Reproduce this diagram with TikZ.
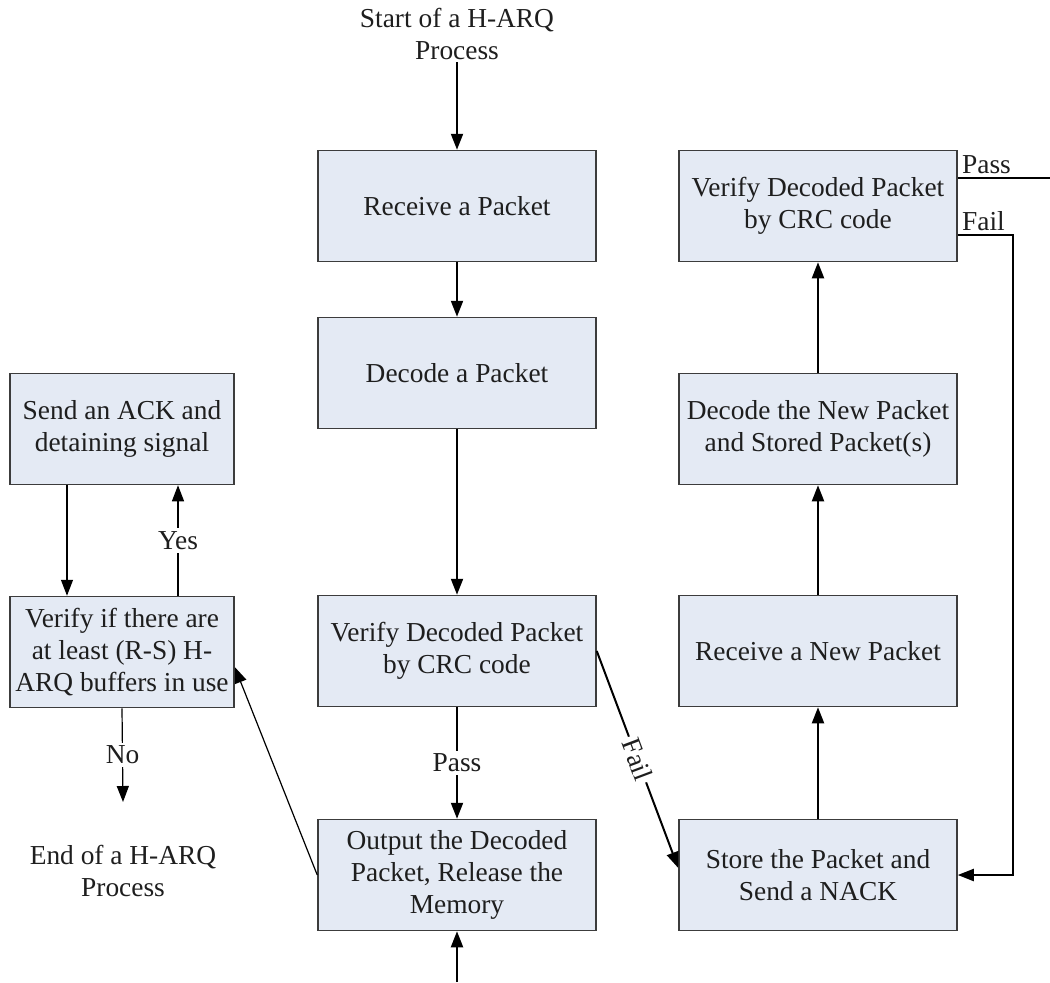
\documentclass[tikz,border=0pt]{standalone}
\usepackage{fontspec}
\setmainfont{Liberation Serif}
\usetikzlibrary{arrows.meta}
\definecolor{boxfill}{RGB}{228,234,244}
\definecolor{boxline}{RGB}{60,60,60}
\definecolor{inktext}{RGB}{30,30,30}
\begin{document}
\begin{tikzpicture}[x=0.5pt,y=-0.5pt,
  font=\fontsize{13.7}{16}\selectfont, text=inktext,
  stepbox/.style={draw=boxline, fill=boxfill, line width=0.75pt,
    minimum width=139pt, minimum height=55.5pt, align=center, inner sep=2pt},
  sidebox/.style={stepbox, minimum width=112pt},
  flow/.style={line width=1pt, -{Triangle[length=8pt,width=6pt]}},
  thinflow/.style={line width=0.6pt, -{Triangle[length=8pt,width=6pt]}},
  lbl/.style={fill=white, inner sep=1.5pt},
  plain/.style={inner sep=1pt, align=center}
]
\useasboundingbox (0,0) rectangle (1050,982);

% middle column
\node[plain] (start) at (457,34) {Start of a H-ARQ\\Process};
\node[stepbox] (recv) at (457,206) {Receive a Packet};
\node[stepbox] (dec)  at (457,373) {Decode a Packet};
\node[stepbox] (ver)  at (457,651) {Verify Decoded Packet\\by CRC code};
\node[stepbox] (out)  at (457,875) {Output the Decoded\\Packet, Release the\\Memory};
\coordinate (feed) at (457,982);

% left column
\node[sidebox] (ack) at (122,429) {Send an ACK and\\detaining signal};
\node[sidebox] (chk) at (122,652) {Verify if there are\\at least (R-S) H-\\ARQ buffers in use};
\coordinate (noend) at (123,802);
\node[plain] (endtxt) at (123,871) {End of a H-ARQ\\Process};

% right column
\node[stepbox] (verR)  at (818,206) {Verify Decoded Packet\\by CRC code};
\node[stepbox] (decR)  at (818,429) {Decode the New Packet\\and Stored Packet(s)};
\node[stepbox] (recvR) at (818,651) {Receive a New Packet};
\node[stepbox] (store) at (818,875) {Store the Packet and\\Send a NACK};
\coordinate (passstart) at ([yshift=14pt]verR.east);
\coordinate (passend) at (1050,178);
\coordinate (failstart) at ([yshift=-14.5pt]verR.east);
\coordinate (failcorner) at (1013,235);

% main flow
\draw[flow] (start.south) -- (recv.north);
\draw[flow] (recv) -- (dec);
\draw[flow] (dec) -- (ver);
\draw[flow] (ver) -- node[lbl] {Pass} (out);
\draw[flow] (feed) -- (out.south);
\draw[flow] (ver.east) -- node[lbl, sloped] {Fail} ([yshift=3.5pt]store.west);

% right column flow
\draw[flow] (store) -- (recvR);
\draw[flow] (recvR) -- (decR);
\draw[flow] (decR) -- (verR);
\draw[line width=1pt] (passstart) -- (passend);
\node[anchor=south west, inner sep=2pt] at (passstart) {Pass};
\draw[flow] (failstart) -| (failcorner |- store.east) -- (store.east);
\node[anchor=south west, inner sep=2pt] at (failstart) {Fail};

% left column flow
\draw[thinflow] (out.west) -- ([yshift=-7.5pt]chk.east);
\draw[thinflow] ([xshift=-27.5pt]ack.south) -- ([xshift=-27.5pt]chk.north);
\draw[thinflow] ([xshift=28pt]chk.north) -- node[lbl] {Yes} ([xshift=28pt]ack.south);
\draw[thinflow] (chk.south) -- node[lbl] {No} (noend);
\end{tikzpicture}
\end{document}
